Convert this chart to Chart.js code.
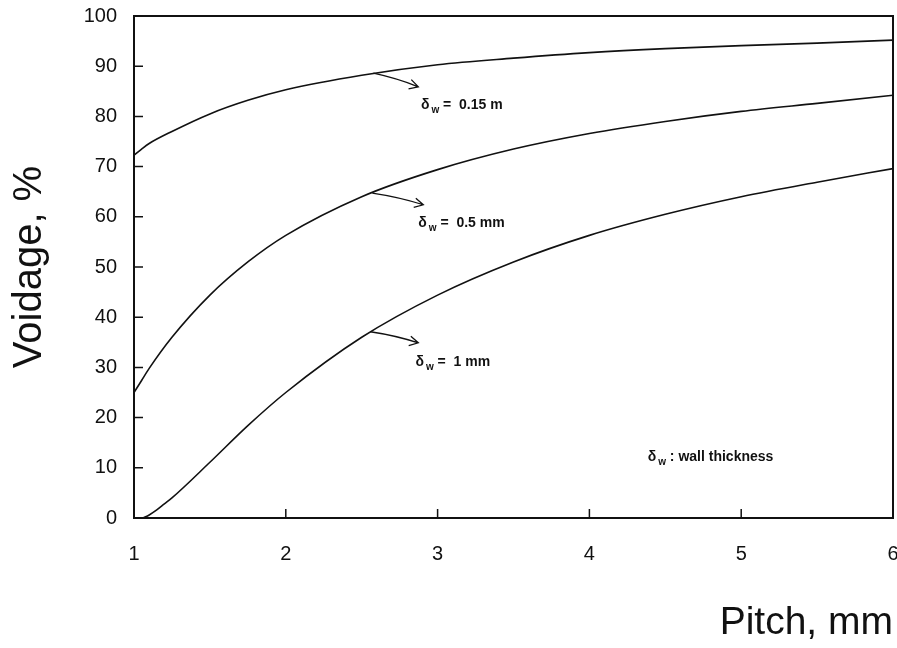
<!DOCTYPE html>
<html>
<head>
<meta charset="utf-8">
<script src="https://cdn.jsdelivr.net/npm/chart.js@4"></script>
<style>
  html, body { margin: 0; padding: 0; background: #fff; overflow: hidden; }
  #wrap { width: 910px; height: 648px; }
</style>
</head>
<body>
<div id="wrap"><canvas id="voidChart" width="910" height="648"></canvas></div>
<script>
// values
const pitchA = [1, 1.05, 1.1, 1.25, 1.5, 1.75, 2, 2.5, 3, 3.5, 4, 4.5, 5, 5.5, 6];
const void015 = [72.3, 73.5, 74.6, 77.0, 80.5, 83.2, 85.3, 88.2, 90.3, 91.6, 92.7, 93.5, 94.1, 94.6, 95.2];
const void05 = [25, 27.4, 29.8, 36, 44.4, 51, 56.3, 64, 69.4, 73.5, 76.6, 79, 81, 82.6, 84.2];
const pitchB = [1.06, 1.1, 1.15, 1.2, 1.25, 1.5, 1.75, 2, 2.5, 3, 3.5, 4, 4.5, 5, 5.5, 6];
const void1 = [0, 0.6, 1.6, 2.8, 4, 11.1, 18.4, 25, 36, 44.4, 51, 56.3, 60.5, 64, 66.9, 69.6];

const xTicks = [1, 2, 3, 4, 5, 6];
const yTicks = [0, 10, 20, 30, 40, 50, 60, 70, 80, 90, 100];

// arrow: from point on curve to label, label drawn after
const notes = [
  { from: [2.577, 88.6], to: [2.873, 85.9], at: [2.89, 82.3], text: ' =  0.15 m' },
  { from: [2.57, 64.7], to: [2.906, 62.4], at: [2.873, 58.8], text: ' =  0.5 mm' },
  { from: [2.557, 37.1], to: [2.873, 34.9], at: [2.854, 31.1], text: ' =  1 mm' },
  { from: null, to: null, at: [4.384, 12.2], text: ' : wall thickness' }
];

const ink = '#111';

function pts(xs, ys) {
  return xs.map((x, i) => ({ x: x, y: ys[i] }));
}

const lineStyle = {
  borderColor: ink,
  borderWidth: 1.6,
  pointRadius: 0,
  showLine: true,
  fill: false,
  cubicInterpolationMode: 'monotone'
};

const frameAndNotes = {
  id: 'frameAndNotes',
  afterDatasetsDraw(chart) {
    const ctx = chart.ctx;
    const a = chart.chartArea;
    const xs = chart.scales.x, ys = chart.scales.y;
    ctx.save();
    ctx.strokeStyle = ink;
    ctx.lineWidth = 2;
    ctx.strokeRect(a.left, a.top, a.right - a.left, a.bottom - a.top);

    // inward tick marks
    ctx.lineWidth = 1.5;
    ctx.beginPath();
    yTicks.forEach(v => {
      const y = ys.getPixelForValue(v);
      ctx.moveTo(a.left, y);
      ctx.lineTo(a.left + 9, y);
    });
    xTicks.forEach(v => {
      const x = xs.getPixelForValue(v);
      ctx.moveTo(x, a.bottom);
      ctx.lineTo(x, a.bottom - 9);
    });
    ctx.stroke();

    // arrows + labels
    ctx.fillStyle = ink;
    ctx.textBaseline = 'middle';
    notes.forEach(n => {
      if (n.from) {
        const x0 = xs.getPixelForValue(n.from[0]), y0 = ys.getPixelForValue(n.from[1]);
        const x1 = xs.getPixelForValue(n.to[0]), y1 = ys.getPixelForValue(n.to[1]);
        const ang = Math.atan2(y1 - y0, x1 - x0);
        ctx.lineWidth = 1.3;
        ctx.beginPath();
        ctx.moveTo(x0, y0);
        ctx.quadraticCurveTo((x0 + x1) / 2, (y0 + y1) / 2 - 2, x1, y1);
        ctx.moveTo(x1 - 10 * Math.cos(ang - 0.5), y1 - 10 * Math.sin(ang - 0.5));
        ctx.lineTo(x1, y1);
        ctx.lineTo(x1 - 10 * Math.cos(ang + 0.5), y1 - 10 * Math.sin(ang + 0.5));
        ctx.stroke();
      }
      let x = xs.getPixelForValue(n.at[0]);
      const y = ys.getPixelForValue(n.at[1]);
      ctx.font = 'bold 14px "Liberation Sans", Arial, sans-serif';
      ctx.fillText('δ', x, y);
      x += ctx.measureText('δ').width + 2;
      ctx.font = 'bold 10px "Liberation Sans", Arial, sans-serif';
      ctx.fillText('w', x, y + 5);
      x += ctx.measureText('w').width;
      ctx.font = 'bold 14px "Liberation Sans", Arial, sans-serif';
      ctx.fillText(n.text, x, y);
    });
    ctx.restore();
  }
};

const config = {
  type: 'scatter',
  data: {
    datasets: [
      Object.assign({ label: 'δw = 0.15 m', data: pts(pitchA, void015) }, lineStyle),
      Object.assign({ label: 'δw = 0.5 mm', data: pts(pitchA, void05) }, lineStyle),
      Object.assign({ label: 'δw = 1 mm', data: pts(pitchB, void1) }, lineStyle)
    ]
  },
  options: {
    responsive: false,
    animation: false,
    layout: {
      padding: { top: 16, right: 17, left: 0, bottom: 0 }
    },
    plugins: {
      legend: { display: false },
      tooltip: { enabled: false }
    },
    scales: {
      x: {
        type: 'linear',
        min: 1,
        max: 6,
        afterBuildTicks: s => { s.ticks = xTicks.map(v => ({ value: v })); },
        afterFit: s => { s.height = 130; s.paddingLeft = 0; s.paddingRight = 0; },
        grid: { display: false, drawTicks: false },
        border: { display: false },
        ticks: {
          padding: 24,
          color: ink,
          font: { family: '"Liberation Sans", Arial, sans-serif', size: 20 }
        },
        title: {
          display: true,
          text: 'Pitch, mm',
          align: 'end',
          color: ink,
          padding: { top: 0, bottom: 1 },
          font: { family: '"Liberation Sans", Arial, sans-serif', size: 39 }
        }
      },
      y: {
        min: 0,
        max: 100,
        afterBuildTicks: s => { s.ticks = yTicks.map(v => ({ value: v })); },
        afterFit: s => { s.width = 134; s.paddingTop = 0; s.paddingBottom = 0; },
        grid: { display: false, drawTicks: false },
        border: { display: false },
        ticks: {
          padding: 17,
          color: ink,
          font: { family: '"Liberation Sans", Arial, sans-serif', size: 20 }
        },
        title: {
          display: true,
          text: 'Voidage, %',
          color: ink,
          padding: { top: 6, bottom: 0 },
          font: { family: '"Liberation Sans", Arial, sans-serif', size: 40 }
        }
      }
    }
  },
  plugins: [frameAndNotes]
};

const voidChart = new Chart(document.getElementById('voidChart'), config);
</script>
</body>
</html>
